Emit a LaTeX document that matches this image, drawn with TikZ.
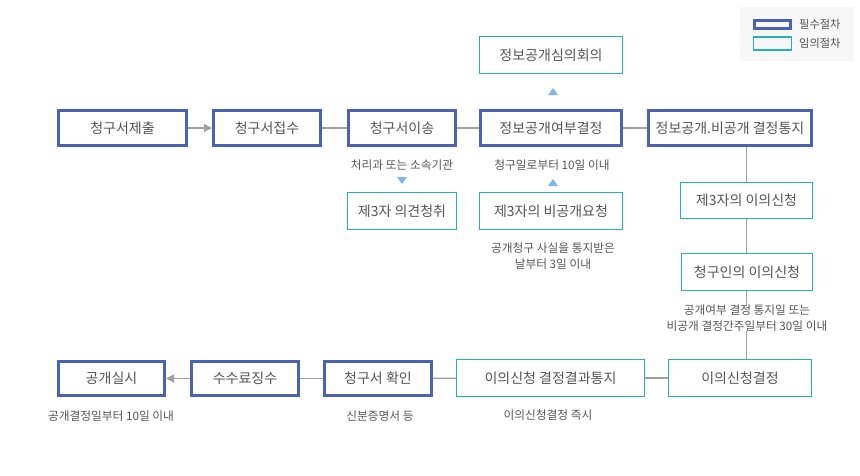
\documentclass[tikz,border=0pt]{standalone}
\usepackage{fontspec}
\setmainfont{Noto Sans CJK KR}
\usetikzlibrary{arrows.meta}
\definecolor{mblue}{HTML}{4A62B5}
\definecolor{mcyan}{HTML}{22B4B4}
\definecolor{tgray}{HTML}{555555}
\definecolor{lgray}{HTML}{A0A0A0}
\definecolor{tri}{HTML}{7DB5EE}
\definecolor{legbg}{HTML}{F7F7F7}
\tikzset{
  req/.style={draw=mblue, line width=3pt, fill=white, inner sep=0pt, text=tgray, font=\fontsize{14}{16}\selectfont},
  opt/.style={draw=mcyan, line width=1.3pt, fill=white, inner sep=0pt, text=tgray, font=\fontsize{14}{16}\selectfont},
  note/.style={text=tgray, font=\fontsize{11.7}{16}\selectfont, align=center, inner sep=0pt},
  conn/.style={draw=lgray, line width=1.2pt},
  arr/.style={conn, -{Triangle[width=8pt,length=8pt]}},
}
\begin{document}
\begin{tikzpicture}[x=1pt,y=-1pt]
\useasboundingbox (0,0) rectangle (860,475);
% legend
\fill[legbg] (740,7) rectangle (853,61);
\node[draw=mblue, line width=3pt, minimum width=36pt, minimum height=8pt, inner sep=0pt] (lg1) at (772.5,24) {};
\node[draw=mcyan, line width=1.2pt, minimum width=38pt, minimum height=13pt, inner sep=0pt] (lg2) at (772.5,43.5) {};
\node[note, anchor=west, font=\fontsize{11.2}{12}\selectfont] (lt1) at (799,24) {필수절차};
\node[note, anchor=west, font=\fontsize{11.2}{12}\selectfont] (lt2) at (799,43.5) {임의절차};
% row 1
\node[req, minimum width=128pt, minimum height=35pt] (n1) at (122.5,128) {청구서제출};
\node[req, minimum width=107pt, minimum height=35pt] (n2) at (267,128) {청구서접수};
\node[req, minimum width=107pt, minimum height=35pt] (n3) at (402,128) {청구서이송};
\node[req, minimum width=141pt, minimum height=35pt] (n4) at (551,128) {정보공개여부결정};
\node[req, minimum width=163pt, minimum height=35pt] (n5) at (730,128) {정보공개.비공개 결정통지};
% optional
\node[opt, minimum width=143pt, minimum height=37pt] (n6) at (551,55) {정보공개심의회의};
\node[opt, minimum width=109pt, minimum height=37pt] (n7) at (402,211) {제3자 의견청취};
\node[opt, minimum width=143pt, minimum height=37pt] (n8) at (551,211) {제3자의 비공개요청};
\node[opt, minimum width=132pt, minimum height=36pt] (n9) at (746.5,200.5) {제3자의 이의신청};
\node[opt, minimum width=131pt, minimum height=37pt] (n10) at (747,272) {청구인의 이의신청};
\node[opt, minimum width=143pt, minimum height=37pt] (n11) at (740,378) {이의신청결정};
\node[opt, minimum width=188pt, minimum height=37pt] (n12) at (550.5,378) {이의신청 결정결과통지};
% row 3
\node[req, minimum width=107pt, minimum height=34pt] (n13) at (378,378.5) {청구서 확인};
\node[req, minimum width=107pt, minimum height=34pt] (n14) at (245,378.5) {수수료징수};
\node[req, minimum width=106pt, minimum height=34pt] (n15) at (111.5,378.5) {공개실시};
% connectors
\draw[arr] (n1) -- (n2);
\draw[conn] (n2) -- (n3);
\draw[conn] (n3) -- (n4);
\draw[conn] (n4) -- (n5);
\draw[conn] (n5.south -| n9.north) -- (n9.north);
\draw[conn] (n9.south) -- (n10.north -| n9.south);
\draw[conn] (n10.south -| n9.south) -- (n11.north -| n9.south);
\draw[conn] (n11) -- (n12);
\draw[conn] (n12) -- (n13);
\draw[conn] (n13) -- (n14);
\draw[arr] (n14) -- (n15);
% triangles
\fill[tri] (548,95) -- (558,95) -- (553,88) -- cycle;
\fill[tri] (548,186) -- (558,186) -- (553,179) -- cycle;
\fill[tri] (397,177) -- (407,177) -- (402,184) -- cycle;
% notes
\node[note] (a1) at (402,165) {처리과 또는 소속기관};
\node[note] (a2) at (552,165) {청구일로부터 10일 이내};
\node[note] (a3) at (553,256) {공개청구 사실을 통지받은\\날부터 3일 이내};
\node[note, fill=white] (a4) at (747,318) {공개여부 결정 통지일 또는\\비공개 결정간주일부터 30일 이내};
\node[note] (a5) at (548,415) {이의신청결정 즉시};
\node[note] (a6) at (111,416) {공개결정일부터 10일 이내};
\node[note] (a7) at (380,416) {신분증명서 등};
\end{tikzpicture}
\end{document}
